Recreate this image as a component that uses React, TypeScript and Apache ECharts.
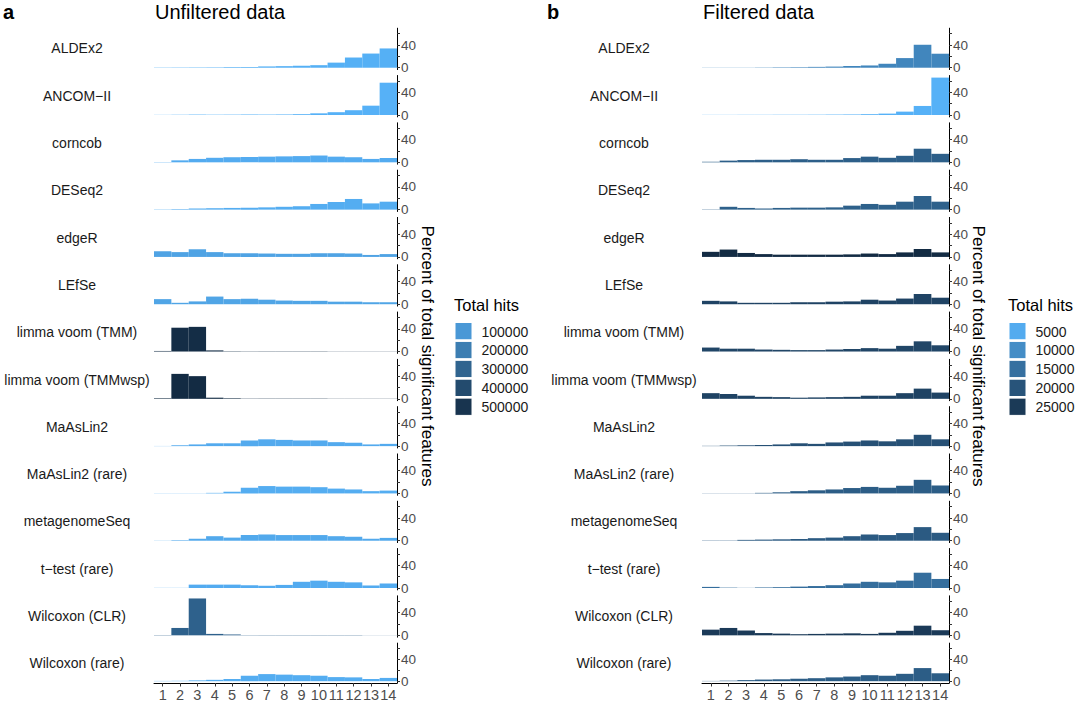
import React, { useEffect, useRef } from "react";
import * as echarts from "echarts";

const bins = ["1", "2", "3", "4", "5", "6", "7", "8", "9", "10", "11", "12", "13", "14"];

const methods = [
  "ALDEx2",
  "ANCOM\u2212II",
  "corncob",
  "DESeq2",
  "edgeR",
  "LEfSe",
  "limma voom (TMM)",
  "limma voom (TMMwsp)",
  "MaAsLin2",
  "MaAsLin2 (rare)",
  "metagenomeSeq",
  "t\u2212test (rare)",
  "Wilcoxon (CLR)",
  "Wilcoxon (rare)",
];

// Percent of total significant features per bin (unfiltered data)
const unfilteredPct = [
  [0.5, 0.6, 0.7, 0.8, 1.2, 1.5, 2.3, 2.8, 3.5, 4.5, 9, 18, 25, 34],
  [0.3, 0.5, 0.8, 0.6, 0.7, 0.9, 0.8, 1, 1.5, 3, 5, 8.5, 16.5, 57],
  [0.5, 3.5, 6, 8, 9, 9.4, 10, 10.5, 11, 12, 10, 9, 6, 7.6],
  [0.5, 1, 2, 2.5, 3, 3.5, 4, 5, 6, 10, 13.5, 18.8, 11, 14],
  [10, 8.5, 13.5, 8.5, 6.5, 6.5, 6, 5.5, 5.5, 6.5, 6.5, 6, 3.5, 5],
  [9, 2.5, 5, 13.5, 9, 9.5, 8, 6.5, 6, 6, 4.5, 4.5, 3.5, 3.5],
  [1, 42, 43.5, 2, 0.6, 0.5, 0.5, 0.5, 0.5, 0.5, 0.3, 0.3, 0.3, 0.3],
  [1, 44, 40, 2, 1, 0.5, 0.5, 0.5, 0.5, 0.5, 0.3, 0.3, 0.3, 0.3],
  [0.3, 1.5, 3, 5, 5, 10, 12, 11, 10, 10, 7, 6, 3, 4],
  [0.3, 0.3, 0.3, 1, 3, 10, 13, 12, 12, 11, 8.5, 7, 4, 5],
  [0.3, 1, 3.5, 8, 5.5, 10, 11, 10, 10, 10, 8, 7, 3.5, 5],
  [0.3, 0.3, 6, 6, 6, 5, 4, 5.5, 11, 13, 11, 10, 4.5, 8],
  [0.5, 13, 65, 2.5, 1.5, 0.5, 0.5, 0.5, 0.5, 0.5, 0.5, 0.5, 0.2, 0.2],
  [0.5, 0.7, 1.5, 2.5, 4, 10, 13, 12, 11, 10, 7.5, 7, 4, 6],
];

// Percent of total significant features per bin (filtered data)
const filteredPct = [
  [0.3, 0.3, 0.3, 0.5, 0.8, 1, 1.5, 2, 3, 4, 7, 17, 40.5, 24.7],
  [0.3, 0.3, 0.4, 0.4, 0.5, 0.5, 0.6, 0.8, 1, 1.5, 2.5, 6, 16, 66],
  [1, 3, 4, 4.5, 4.5, 5.5, 4.5, 4.5, 7.5, 10, 8, 11.5, 24, 15],
  [0.5, 5, 3, 2, 3, 3.5, 3.5, 4, 7, 10, 8.5, 14, 24, 14],
  [9, 13, 7, 5, 4, 4, 4, 4, 4.5, 6, 5, 8, 14, 8],
  [6, 5, 2.5, 2.5, 2.5, 3.5, 3.5, 4.5, 5, 8, 6.5, 10, 18, 11.5],
  [7, 5, 5, 3.5, 3, 2.5, 2.5, 3.5, 4.5, 6, 5, 10, 18, 11],
  [10, 8.5, 5.5, 3.5, 3, 2, 2.5, 3, 3.5, 5.5, 5.5, 10, 18, 11],
  [0.5, 1, 1.5, 2, 3, 5, 4, 6.5, 8, 10, 8.5, 12, 20, 12],
  [0.3, 0.3, 0.3, 1, 2, 4, 5.5, 7, 9.5, 11.5, 10, 13.5, 24, 14],
  [0.5, 0.5, 1.5, 2, 2.5, 3, 4.5, 5.5, 8, 11, 10, 13.5, 24, 14],
  [2, 0.7, 0.3, 1, 1.5, 2.5, 3.5, 5, 8, 11, 10, 13, 27, 16],
  [10, 13, 8.5, 4, 3, 2, 2.5, 3, 3.5, 2.5, 4.5, 8, 17, 9],
  [0.5, 1, 2, 3, 3.5, 4.5, 5.5, 7, 8.5, 11, 10, 13.5, 24, 14.5],
];

// Total hits per method (fill)
const unfilteredTotals = [15000, 10000, 30000, 25000, 60000, 55000, 530000, 540000, 35000, 25000, 40000, 30000, 310000, 25000];
const filteredTotals = [11200, 4000, 18000, 17700, 28000, 23200, 22700, 23200, 20800, 18400, 18900, 15300, 24900, 18400];

const unfilteredBreaks = [100000, 200000, 300000, 400000, 500000];
const filteredBreaks = [5000, 10000, 15000, 20000, 25000];

const FONT = "'Liberation Sans', Arial, Helvetica, sans-serif";
const LOW = "#56B1F7";
const HIGH = "#132B43";

function toLin(c: number) {
  c /= 255;
  return c <= 0.04045 ? c / 12.92 : Math.pow((c + 0.055) / 1.055, 2.4);
}
function fromLin(c: number) {
  const v = c <= 0.0031308 ? 12.92 * c : 1.055 * Math.pow(c, 1 / 2.4) - 0.055;
  return Math.round(Math.max(0, Math.min(1, v)) * 255);
}
const Xn = 0.95047, Yn = 1, Zn = 1.08883;
function hexToLab(hex: string) {
  const r = toLin(parseInt(hex.slice(1, 3), 16));
  const g = toLin(parseInt(hex.slice(3, 5), 16));
  const b = toLin(parseInt(hex.slice(5, 7), 16));
  const X = (0.4124 * r + 0.3576 * g + 0.1805 * b) / Xn;
  const Y = (0.2126 * r + 0.7152 * g + 0.0722 * b) / Yn;
  const Z = (0.0193 * r + 0.1192 * g + 0.9505 * b) / Zn;
  const f = (t: number) => (t > 0.008856 ? Math.cbrt(t) : 7.787 * t + 16 / 116);
  const fx = f(X), fy = f(Y), fz = f(Z);
  return [116 * fy - 16, 500 * (fx - fy), 200 * (fy - fz)];
}
function labToHex(L: number, a: number, bb: number) {
  const fy = (L + 16) / 116;
  const fx = fy + a / 500;
  const fz = fy - bb / 200;
  const inv = (t: number) => (t * t * t > 0.008856 ? t * t * t : (t - 16 / 116) / 7.787);
  const X = inv(fx) * Xn, Y = inv(fy) * Yn, Z = inv(fz) * Zn;
  const r = 3.2406 * X - 1.5372 * Y - 0.4986 * Z;
  const g = -0.9689 * X + 1.8758 * Y + 0.0415 * Z;
  const b = 0.0557 * X - 0.204 * Y + 1.057 * Z;
  const h = (v: number) => fromLin(v).toString(16).padStart(2, "0");
  return "#" + h(r) + h(g) + h(b);
}
const labLow = hexToLab(LOW);
const labHigh = hexToLab(HIGH);
function scaleColor(v: number, min: number, max: number) {
  const t = Math.max(0, Math.min(1, (v - min) / (max - min)));
  return labToHex(
    labLow[0] + (labHigh[0] - labLow[0]) * t,
    labLow[1] + (labHigh[1] - labLow[1]) * t,
    labLow[2] + (labHigh[2] - labLow[2]) * t
  );
}

const ROW_TOP0 = 28.2;
const ROW_PITCH = 47.3;
const ROW_H = 41.4;
const Y_MIN = -3.3;
const Y_MAX = 69.7;

export default function App() {
  const ref = useRef<HTMLDivElement>(null);
  useEffect(() => {
    document.body.style.margin = "0";
    if (!ref.current) return;
    const chart = echarts.init(ref.current, undefined, { renderer: "svg" });

    const panels = [
      {
        left: 154, width: 243, values: unfilteredPct, totals: unfilteredTotals, breaks: unfilteredBreaks,
        labelX: 77, letter: "a", letterX: 3, title: "Unfiltered data", titleX: 155, yTitleX: 427, legendX: 454,
      },
      {
        left: 702, width: 247, values: filteredPct, totals: filteredTotals, breaks: filteredBreaks,
        labelX: 624, letter: "b", letterX: 547, title: "Filtered data", titleX: 703, yTitleX: 978, legendX: 1008,
      },
    ];

    const grids: any[] = [];
    const xAxes: any[] = [];
    const yAxes: any[] = [];
    const series: any[] = [];
    const graphics: any[] = [];

    panels.forEach((p, pi) => {
      const tMin = Math.min(...p.totals);
      const tMax = Math.max(...p.totals);
      methods.forEach((m, ri) => {
        const idx = pi * methods.length + ri;
        const top = ROW_TOP0 + ROW_PITCH * ri;
        const bottom = ri === methods.length - 1;
        grids.push({ left: p.left, width: p.width, top, height: ROW_H, containLabel: false });
        xAxes.push({
          type: "category",
          gridIndex: idx,
          data: bins,
          boundaryGap: true,
          axisLine: { show: bottom, onZero: false, lineStyle: { color: "#000", width: 1 } },
          axisTick: { show: bottom, alignWithLabel: true, length: 3.5, lineStyle: { color: "#333", width: 1 } },
          axisLabel: { show: bottom, interval: 0, color: "#4D4D4D", fontSize: 14.5, fontFamily: FONT, margin: 4 },
          splitLine: { show: false },
        });
        yAxes.push({
          type: "value",
          gridIndex: idx,
          position: "right",
          min: Y_MIN,
          max: Y_MAX,
          axisLine: { show: true, onZero: false, lineStyle: { color: "#000", width: 1 } },
          axisTick: { show: true, length: 3, customValues: [0, 20, 40, 60], lineStyle: { color: "#333", width: 1 } },
          axisLabel: { show: true, customValues: [0, 40], color: "#4D4D4D", fontSize: 13.5, fontFamily: FONT, margin: 4 },
          splitLine: { show: false },
        });
        const color = scaleColor(p.totals[ri], tMin, tMax);
        series.push({
          type: "bar",
          xAxisIndex: idx,
          yAxisIndex: idx,
          data: p.values[ri],
          barCategoryGap: "0%",
          itemStyle: { color },
          silent: true,
        });
        graphics.push({
          type: "text",
          x: p.labelX,
          y: top + ROW_H / 2 - 0.5,
          style: { text: m, fill: "#1A1A1A", font: `14px ${FONT}`, textAlign: "center", textVerticalAlign: "middle" },
        });
      });

      graphics.push({
        type: "text",
        x: p.letterX,
        y: 12,
        style: { text: p.letter, fill: "#000", font: `bold 20px ${FONT}`, textAlign: "left", textVerticalAlign: "middle" },
      });
      graphics.push({
        type: "text",
        x: p.titleX,
        y: 12,
        style: { text: p.title, fill: "#000", font: `20px ${FONT}`, textAlign: "left", textVerticalAlign: "middle" },
      });
      graphics.push({
        type: "text",
        x: p.yTitleX,
        y: 356,
        rotation: -Math.PI / 2,
        style: {
          text: "Percent of total significant features",
          fill: "#000",
          font: `17px ${FONT}`,
          textAlign: "center",
          textVerticalAlign: "middle",
        },
      });
      graphics.push({
        type: "text",
        x: p.legendX,
        y: 305,
        style: { text: "Total hits", fill: "#000", font: `16.5px ${FONT}`, textAlign: "left", textVerticalAlign: "middle" },
      });
      p.breaks.forEach((b, k) => {
        const y0 = 322.5 + 18.9 * k;
        graphics.push({
          type: "rect",
          shape: { x: p.legendX + 1, y: y0, width: 17, height: 17.3 },
          style: { fill: scaleColor(b, tMin, tMax), stroke: "#FFFFFF", lineWidth: 1 },
        });
        graphics.push({
          type: "text",
          x: p.legendX + 27.5,
          y: y0 + 9,
          style: { text: String(b), fill: "#1A1A1A", font: `14px ${FONT}`, textAlign: "left", textVerticalAlign: "middle" },
        });
      });
    });

    chart.setOption({
      animation: false,
      backgroundColor: "#FFFFFF",
      grid: grids,
      xAxis: xAxes,
      yAxis: yAxes,
      series,
      graphic: graphics,
    });

    return () => chart.dispose();
  }, []);

  return <div ref={ref} style={{ width: 1080, height: 702 }} />;
}
